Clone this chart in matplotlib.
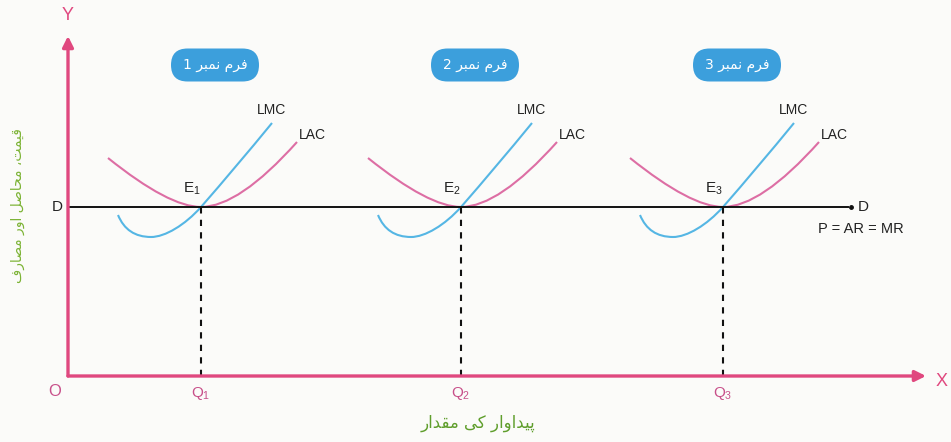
import matplotlib
matplotlib.use("Agg")
import matplotlib.pyplot as plt
from matplotlib.path import Path
from matplotlib.patches import PathPatch, FancyBboxPatch

plt.rcParams["font.family"] = ["Liberation Sans", "DejaVu Sans"]
plt.rcParams["mathtext.fontset"] = "custom"
plt.rcParams["mathtext.rm"] = "Liberation Sans"
plt.rcParams["mathtext.it"] = "Liberation Sans"

# ---- data -------------------------------------------------------------
firm_labels = ["فرم نمبر 1", "فرم نمبر 2", "فرم نمبر 3"]
equilibrium_labels = ["$E_1$", "$E_2$", "$E_3$"]
quantity_labels = ["$Q_1$", "$Q_2$", "$Q_3$"]
equilibrium_q = [13.3, 39.3, 65.5]      # output of each firm
price_level = 16.9                       # P = AR = MR
x_axis_label = "پیداوار کی مقدار"
y_axis_label = "قیمت، محاصل اور مصارف"
price_line_label = "P = AR = MR"

# cost curve shape around each equilibrium point (dq, dp), Bezier vertices
lac_dq = [-9.3, -3.2, 0.0, 3.8, 9.6]
lac_dp = [4.9, 0.0, 0.0, 0.0, 6.5]
lmc_dq = [-8.3, -7.4, -5.0, -3.6, -1.6, 0.0, 3.5, 7.1]
lmc_dp = [-0.8, -3.0, -3.0, -3.0, -1.8, 0.0, 4.0, 8.4]

# ---- Urdu shaping (contextual forms, right-to-left) -------------------
FORMS = {
    "ا": ("\uFE8D", "\uFE8E", None, None),
    "ب": ("\uFE8F", "\uFE90", "\uFE91", "\uFE92"),
    "پ": ("\uFB56", "\uFB57", "\uFB58", "\uFB59"),
    "ت": ("\uFE95", "\uFE96", "\uFE97", "\uFE98"),
    "ح": ("\uFEA1", "\uFEA2", "\uFEA3", "\uFEA4"),
    "د": ("\uFEA9", "\uFEAA", None, None),
    "ر": ("\uFEAD", "\uFEAE", None, None),
    "ص": ("\uFEB9", "\uFEBA", "\uFEBB", "\uFEBC"),
    "ف": ("\uFED1", "\uFED2", "\uFED3", "\uFED4"),
    "ق": ("\uFED5", "\uFED6", "\uFED7", "\uFED8"),
    "ک": ("\uFB8E", "\uFB8F", "\uFB90", "\uFB91"),
    "ل": ("\uFEDD", "\uFEDE", "\uFEDF", "\uFEE0"),
    "م": ("\uFEE1", "\uFEE2", "\uFEE3", "\uFEE4"),
    "ن": ("\uFEE5", "\uFEE6", "\uFEE7", "\uFEE8"),
    "و": ("\uFEED", "\uFEEE", None, None),
    "ی": ("\uFBFC", "\uFBFD", "\uFBFE", "\uFBFF"),
}


def shape_urdu(text):
    out = []
    n = len(text)
    for i, ch in enumerate(text):
        if ch not in FORMS:
            out.append(ch)
            continue
        prev = text[i - 1] if i > 0 else ""
        nxt = text[i + 1] if i + 1 < n else ""
        joins_prev = prev in FORMS and FORMS[prev][2] is not None
        joins_next = FORMS[ch][2] is not None and nxt in FORMS
        iso, fin, ini, med = FORMS[ch]
        if joins_prev and joins_next:
            out.append(med)
        elif joins_prev:
            out.append(fin)
        elif joins_next:
            out.append(ini)
        else:
            out.append(iso)
    return "".join(reversed(out))


URDU_FONT = ["DejaVu Sans"]

# ---- colours ----------------------------------------------------------
AXIS_PINK = "#e0487f"
LAC_PINK = "#dd6ea4"
LMC_BLUE = "#55b6e4"
BADGE_BLUE = "#3c9fdc"
GREEN = "#7cb335"
LABEL_PINK = "#c8508a"

fig = plt.figure(figsize=(9.51, 4.42), dpi=100)
fig.patch.set_facecolor("#fbfbf9")
ax = fig.add_axes([0, 0, 1, 1])
ax.set_xlim(-6.8, 88.3)
ax.set_ylim(-6.6, 37.6)
ax.axis("off")

# axes with arrows
ax.annotate("", xy=(0, 34.0), xytext=(0, 0),
            arrowprops=dict(arrowstyle="-|>", color=AXIS_PINK, lw=2.4,
                            mutation_scale=16, shrinkA=0, shrinkB=0))
ax.annotate("", xy=(85.8, 0), xytext=(0, 0),
            arrowprops=dict(arrowstyle="-|>", color=AXIS_PINK, lw=2.4,
                            mutation_scale=16, shrinkA=0, shrinkB=0))
ax.text(0, 36.1, "Y", color=AXIS_PINK, fontsize=13, ha="center", va="center")
ax.text(87.4, -0.6, "X", color=AXIS_PINK, fontsize=13, ha="center", va="center")
ax.text(-1.3, -1.6, "O", color=LABEL_PINK, fontsize=12, ha="center", va="center")

# price line P = AR = MR
ax.plot([0, 78.0], [price_level, price_level], color="#111111", lw=1.4)
ax.plot([78.3], [price_level], "o", color="#111111", ms=2.5)
ax.text(-1.1, price_level, "D", fontsize=11, ha="center", va="center", color="#222222")
ax.text(79.0, price_level, "D", fontsize=11, ha="left", va="center", color="#222222")
ax.text(79.3, price_level - 2.2, price_line_label, fontsize=10.5, ha="center",
        va="center", color="#222222")

lac_codes = [Path.MOVETO, Path.CURVE3, Path.CURVE3, Path.CURVE3, Path.CURVE3]
lmc_codes = [Path.MOVETO, Path.CURVE3, Path.CURVE3,
             Path.CURVE4, Path.CURVE4, Path.CURVE4,
             Path.CURVE3, Path.CURVE3]

for q, e_lab, q_lab, firm in zip(equilibrium_q, equilibrium_labels,
                                  quantity_labels, firm_labels):
    lac = Path([(q + dx, price_level + dy) for dx, dy in zip(lac_dq, lac_dp)], lac_codes)
    lmc = Path([(q + dx, price_level + dy) for dx, dy in zip(lmc_dq, lmc_dp)], lmc_codes)
    ax.add_patch(PathPatch(lac, fc="none", ec=LAC_PINK, lw=1.5))
    ax.add_patch(PathPatch(lmc, fc="none", ec=LMC_BLUE, lw=1.5))

    ax.plot([q, q], [0, price_level], color="#111111", lw=1.5,
            linestyle=(0, (3, 3)))

    ax.text(q - 0.9, price_level + 1.8, e_lab, fontsize=11, ha="center",
            va="center", color="#222222")
    ax.text(q + 7.0, price_level + 9.7, "LMC", fontsize=10, ha="center",
            va="center", color="#222222")
    ax.text(q + 11.1, price_level + 7.2, "LAC", fontsize=10, ha="center",
            va="center", color="#222222")
    ax.text(q, -1.7, q_lab, fontsize=11, ha="center", va="center",
            color=LABEL_PINK)

    bx, by, bw, bh = q + 1.4, 31.1, 8.8, 3.3
    ax.add_patch(FancyBboxPatch((bx - bw / 2, by - bh / 2), bw, bh,
                                boxstyle=f"round,pad=0,rounding_size={bh / 2}",
                                fc=BADGE_BLUE, ec="none"))
    ax.text(bx, by, shape_urdu(firm), family=URDU_FONT, fontsize=10,
            ha="center", va="center", color="white")

# axis titles
ax.text(-5.0, 17.0, shape_urdu(y_axis_label), family=URDU_FONT, fontsize=10,
        rotation=90, ha="center", va="center", color=GREEN)
ax.text(41.0, -4.7, shape_urdu(x_axis_label), family=URDU_FONT, fontsize=12,
        ha="center", va="center", color="#5f9e2c")

fig.savefig("out.png", dpi=100, facecolor=fig.get_facecolor())
